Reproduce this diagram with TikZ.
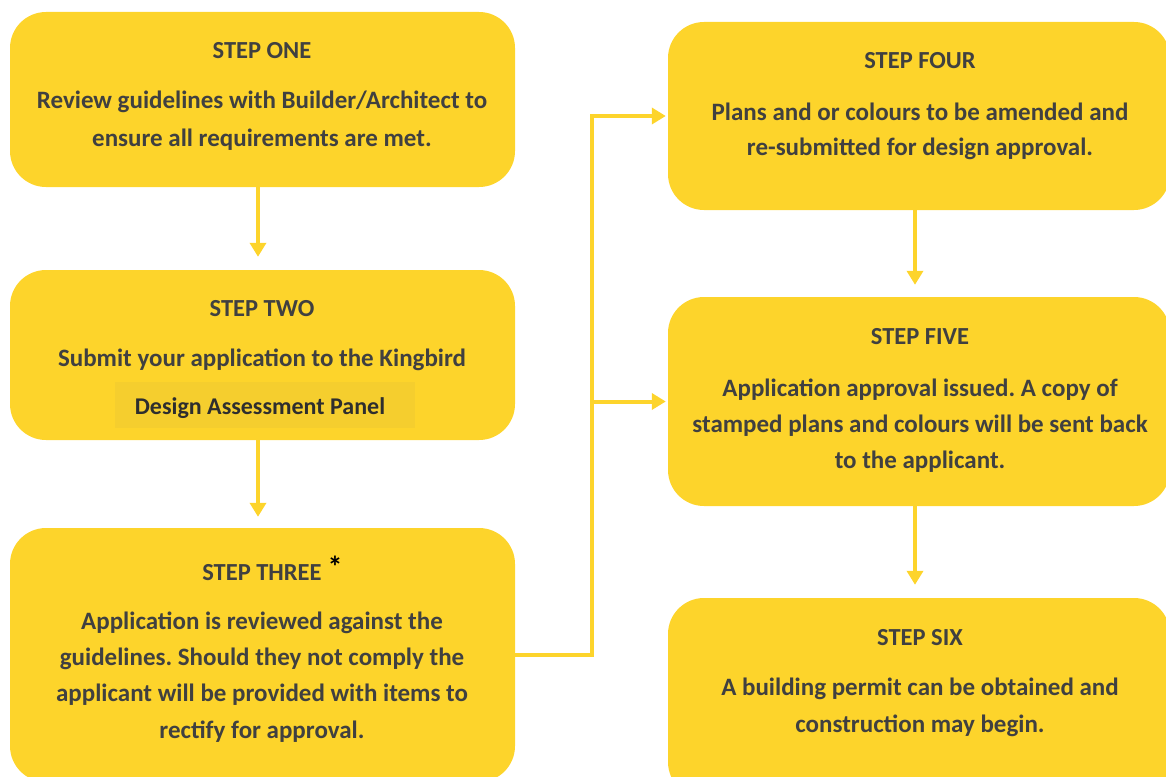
\documentclass[tikz,border=0pt]{standalone}
\usepackage{fontspec}
\setmainfont{Carlito}
\usetikzlibrary{arrows.meta}
\frenchspacing
\definecolor{stepyellow}{HTML}{FDD42B}
\definecolor{panelyellow}{HTML}{F5CE2E}
\definecolor{steptext}{HTML}{404040}
\definecolor{paneltext}{HTML}{2E2E2E}
\tikzset{
  stepbox/.style={fill=stepyellow, draw=none, rounded corners=36pt, inner sep=0pt},
  steptitle/.style={font=\fontsize{24.5}{28}\selectfont\bfseries, text=steptext, inner sep=0pt, anchor=center},
  stepline/.style={font=\fontsize{25}{28}\selectfont\bfseries, text=steptext, inner sep=0pt, anchor=center},
  conn/.style={draw=stepyellow, line width=4pt},
  arr/.style={conn, -{Triangle[length=14pt,width=16pt]}},
}
\begin{document}
\begin{tikzpicture}[x=1pt,y=-1pt]
\useasboundingbox (0,0) rectangle (1166,776);
% boxes
\node[stepbox, minimum width=505pt, minimum height=175pt] (b1) at (262.5,99.5) {};
\node[stepbox, minimum width=505pt, minimum height=170pt] (b2) at (262.5,355) {};
\node[stepbox, minimum width=505pt, minimum height=254pt] (b3) at (262.5,655) {};
\node[stepbox, minimum width=502pt, minimum height=188pt] (b4) at (919,116) {};
\node[stepbox, minimum width=502pt, minimum height=209pt] (b5) at (919,401.5) {};
\node[stepbox, minimum width=502pt, minimum height=200pt] (b6) at (919,698) {};
% panel highlight
\node[fill=panelyellow, minimum width=300pt, minimum height=46pt, inner sep=0pt] (panel) at (265,405) {};
% texts box 1
\node[steptitle] (t1) at (262,51) {STEP ONE};
\node[stepline] (t1a) at (262,102) {Review guidelines with Builder/Architect to};
\node[stepline] (t1b) at (262,140) {ensure all requirements are met.};
% box 2
\node[steptitle] (t2) at (262,309) {STEP TWO};
\node[stepline] (t2a) at (262,360) {Submit your application to the Kingbird};
\node[font=\fontsize{24}{28}\selectfont\bfseries, text=paneltext, inner sep=0pt] (t2b) at (260,408) {Design Assessment Panel};
% box 3
\node[steptitle] (t3) at (262,573) {STEP THREE};
\node[font=\fontsize{30}{32}\selectfont\bfseries, text=black, inner sep=0pt] (ast) at (335,567) {*};
\node[stepline] (t3a) at (262,623) {Application is reviewed against the};
\node[stepline] (t3b) at (262,659) {guidelines. Should they not comply the};
\node[stepline] (t3c) at (262,695) {applicant will be provided with items to};
\node[stepline] (t3d) at (262,732) {rectify for approval.};
% box 4
\node[steptitle] (t4) at (920,61) {STEP FOUR};
\node[stepline] (t4a) at (920,112) {Plans and or colours to be amended and};
\node[stepline] (t4b) at (920,149) {re-submitted for design approval.};
% box 5
\node[steptitle] (t5) at (920,337) {STEP FIVE};
\node[stepline] (t5a) at (920,390) {Application approval issued. A copy of};
\node[stepline] (t5b) at (920,426) {stamped plans and colours will be sent back};
\node[stepline] (t5c) at (920,462) {to the applicant.};
% box 6
\node[steptitle] (t6) at (920,638) {STEP SIX};
\node[stepline] (t6a) at (920,689) {A building permit can be obtained and};
\node[stepline] (t6b) at (920,726) {construction may begin.};
% connectors
\coordinate (j1) at (592,655);
\draw[arr, shorten >=13pt] ([xshift=-4.5pt]b1.south) -- ([xshift=-4.5pt]b2.north);
\draw[arr, shorten >=11pt] ([xshift=-4.5pt]b2.south) -- ([xshift=-4.5pt]b3.north);
\draw[arr, shorten >=12pt] ([xshift=-4pt]b4.south) -- ([xshift=-4pt]b5.north);
\draw[arr, shorten >=13pt] ([xshift=-4pt]b5.south) -- ([xshift=-4pt]b6.north);
\draw[arr, shorten >=2pt] (b3.east |- j1) -- (j1) |- (b4.west);
\draw[arr, shorten >=2pt] (j1 |- b5.west) -- (b5.west);
\end{tikzpicture}
\end{document}
